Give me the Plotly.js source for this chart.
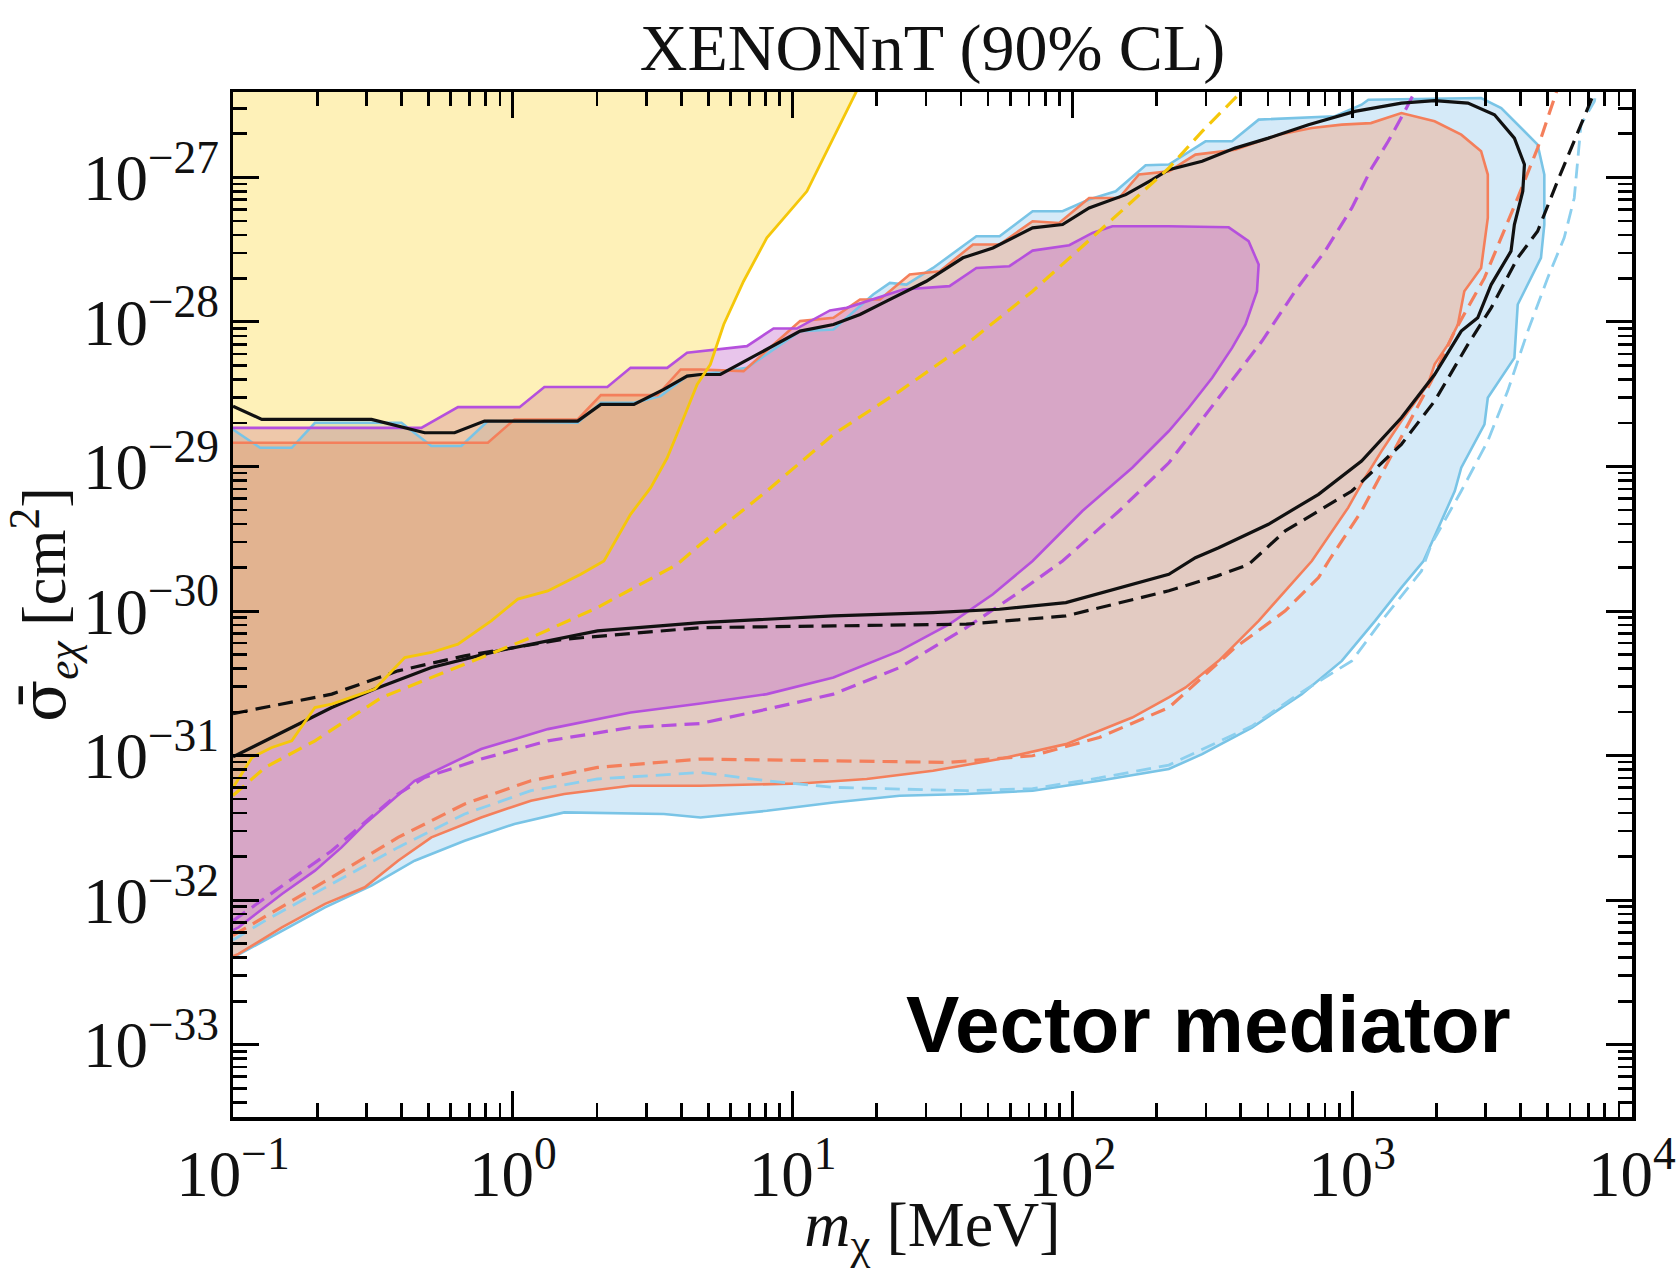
<!DOCTYPE html>
<html>
<head>
<meta charset="utf-8">
<script src="https://cdn.plot.ly/plotly-3.0.1.min.js"></script>
<style>html,body{margin:0;padding:0;background:#fff;}</style>
</head>
<body>
<div id="chart" style="width:1678px;height:1269px;"></div>
<script>
// ---- data (m_chi in MeV, sigma in cm^2) ----
const massBlue = [0.1, 0.125, 0.1622, 0.1963, 0.3999, 0.5117, 0.6546, 0.8147, 1.706, 2.065, 2.710, 3.373, 4.198, 4.688, 6.871, 10.64, 14.0, 19.41, 22.28, 25.53, 31.77, 45.39, 54.95, 72.11, 92.26, 114.8, 142.9, 182.8, 221.3, 299.2, 372.4, 463.4, 869.0, 1081, 1143, 2891, 3412, 4018, 4603, 4864, 4864, 4732, 4246, 3908, 3802, 3412, 3055, 2972, 2455, 2328, 2084, 1800, 1500, 1208, 918.9, 660.7, 438.5, 291.1, 221.3, 124.7, 72.11, 41.78, 24.15, 14.0, 8.091, 4.688, 3.467, 1.528, 1.014, 0.673, 0.4457, 0.3126, 0.2133, 0.1496, 0.1];
const sigmaBlue = [1.80e-29, 1.346e-29, 1.346e-29, 2.004e-29, 2.004e-29, 1.384e-29, 1.384e-29, 2.061e-29, 2.004e-29, 2.754e-29, 2.754e-29, 3.069e-29, 4.217e-29, 4.325e-29, 4.808e-29, 8.630e-29, 8.851e-29, 1.545e-28, 1.862e-28, 1.811e-28, 2.360e-28, 3.908e-28, 3.908e-28, 5.821e-28, 5.821e-28, 7.015e-28, 7.998e-28, 1.211e-27, 1.225e-27, 1.774e-27, 1.774e-27, 2.506e-27, 2.642e-27, 3.177e-27, 3.443e-27, 3.532e-27, 3.013e-27, 2.193e-27, 1.683e-27, 1.045e-27, 4.710e-28, 2.773e-28, 1.811e-28, 1.318e-28, 5.636e-29, 4.102e-29, 2.985e-29, 1.954e-29, 9.795e-30, 6.761e-30, 4.198e-30, 2.218e-30, 1.452e-30, 8.551e-31, 4.519e-31, 2.661e-31, 1.563e-31, 1.023e-31, 8.072e-32, 6.699e-32, 5.715e-32, 5.420e-32, 5.272e-32, 4.742e-32, 4.150e-32, 3.733e-32, 3.945e-32, 4.046e-32, 3.365e-32, 2.576e-32, 1.875e-32, 1.259e-32, 8.913e-33, 6.152e-33, 4.0e-33];

const massOrange = [0.1, 0.8147, 1.014, 1.706, 2.065, 3.289, 3.981, 4.688, 6.683, 8.551, 10.64, 14.0, 17.42, 20.51, 26.24, 33.57, 44.16, 54.95, 72.11, 89.74, 114.8, 146.9, 173.0, 221.3, 275.4, 381.9, 545.8, 717.8, 918.9, 1167, 1500, 1972, 2455, 2891, 3055, 3055, 2891, 2518, 2388, 2203, 1972, 1866, 1500, 1274, 1112, 968.3, 799.8, 717.8, 576.8, 463.4, 333.4, 254.1, 221.3, 163.7, 94.84, 54.95, 31.77, 18.41, 10.64, 4.688, 2.636, 1.528, 1.161, 0.7709, 0.5117, 0.389, 0.2958, 0.2133, 0.1496, 0.1047, 0.1];
const sigmaOrange = [1.459e-29, 1.459e-29, 2.113e-29, 2.113e-29, 3.112e-29, 3.112e-29, 4.688e-29, 4.688e-29, 4.560e-29, 6.982e-29, 1.012e-28, 1.067e-28, 1.429e-28, 1.429e-28, 2.128e-28, 2.239e-28, 3.428e-28, 3.428e-28, 4.966e-28, 4.831e-28, 7.194e-28, 7.194e-28, 1.045e-27, 1.099e-27, 1.435e-27, 1.552e-27, 1.972e-27, 2.193e-27, 2.312e-27, 2.371e-27, 2.780e-27, 2.438e-27, 1.972e-27, 1.514e-27, 1.045e-27, 5.236e-28, 2.360e-28, 1.629e-28, 9.594e-29, 6.982e-29, 5.082e-29, 3.690e-29, 2.061e-29, 1.276e-29, 8.356e-30, 5.188e-30, 3.048e-30, 2.218e-30, 1.377e-30, 8.551e-31, 4.519e-31, 2.958e-31, 2.523e-31, 1.832e-31, 1.2e-31, 9.462e-32, 7.852e-32, 6.887e-32, 6.412e-32, 6.180e-32, 6.180e-32, 5.420e-32, 4.875e-32, 3.733e-32, 2.716e-32, 1.875e-32, 1.227e-32, 9.419e-33, 6.486e-33, 4.246e-33, 4.1e-33];

const massPurple = [0.1, 0.471, 0.6368, 1.057, 1.297, 2.178, 2.636, 3.565, 4.198, 6.871, 8.551, 10.35, 13.61, 15.6, 24.83, 36.39, 45.39, 59.57, 72.11, 97.5, 118.0, 139.0, 221.3, 362.2, 426.6, 463.4, 457.1, 415.9, 372.4, 316.2, 260.6, 221.3, 163.7, 108.6, 72.11, 52.0, 36.39, 24.15, 14.0, 8.091, 4.688, 2.636, 1.334, 0.7709, 0.4457, 0.2958, 0.2443, 0.1963, 0.1496, 0.1047, 0.1];
const sigmaPurple = [1.849e-29, 1.849e-29, 2.570e-29, 2.570e-29, 3.540e-29, 3.540e-29, 4.808e-29, 4.808e-29, 6.109e-29, 6.792e-29, 8.995e-29, 8.995e-29, 1.2e-28, 1.25e-28, 1.675e-28, 1.766e-28, 2.360e-28, 2.427e-28, 3.112e-28, 3.388e-28, 4.121e-28, 4.581e-28, 4.581e-28, 4.508e-28, 3.614e-28, 2.495e-28, 1.629e-28, 9.594e-29, 6.607e-29, 4.102e-29, 2.547e-29, 1.758e-29, 9.795e-30, 4.920e-30, 2.218e-30, 1.306e-30, 8.11e-31, 5.297e-31, 3.467e-31, 2.661e-31, 2.291e-31, 1.986e-31, 1.524e-31, 1.109e-31, 6.699e-32, 3.365e-32, 2.317e-32, 1.6e-32, 1.104e-32, 6.486e-33, 6.2e-33];

const massBlack = [0.1, 0.1268, 0.3126, 0.4345, 0.4842, 0.6194, 0.7925, 1.706, 2.065, 2.710, 3.467, 4.198, 4.688, 5.521, 7.464, 10.64, 14.0, 17.42, 21.68, 30.06, 40.64, 52.0, 72.11, 92.26, 114.8, 155.2, 193.2, 221.3, 291.1, 381.9, 502.3, 698.2, 1023, 1500, 1972, 2594, 3228, 3802, 4130, 4074, 3802, 3698, 3141, 2812, 2455, 1972, 1500, 1081, 758.6, 502.3, 333.4, 275.4, 221.3, 142.9, 94.84, 54.95, 31.77, 14.0, 4.688, 2.009, 0.885, 0.5117, 0.3214, 0.2254, 0.1714, 0.1303, 0.1047, 0.1];
const sigmaBlack = [2.612e-29, 2.113e-29, 2.113e-29, 1.803e-29, 1.710e-29, 1.710e-29, 2.061e-29, 2.061e-29, 2.685e-29, 2.685e-29, 3.412e-29, 4.217e-29, 4.325e-29, 4.325e-29, 5.957e-29, 8.630e-29, 9.594e-29, 1.125e-28, 1.390e-28, 1.910e-28, 2.773e-28, 3.243e-28, 4.467e-28, 4.710e-28, 6.138e-28, 7.586e-28, 9.638e-28, 1.130e-27, 1.291e-27, 1.592e-27, 1.866e-27, 2.312e-27, 2.858e-27, 3.258e-27, 3.388e-27, 3.258e-27, 2.710e-27, 1.866e-27, 1.225e-27, 7.998e-28, 4.710e-28, 3.083e-28, 1.811e-28, 1.067e-28, 8.630e-29, 4.325e-29, 2.173e-29, 1.089e-29, 6.412e-30, 3.981e-30, 2.742e-30, 2.339e-30, 1.795e-30, 1.416e-30, 1.143e-30, 1.028e-30, 9.75e-31, 9.247e-31, 8.318e-31, 7.278e-31, 5.297e-31, 4.064e-31, 2.884e-31, 2.148e-31, 1.652e-31, 1.265e-31, 1.023e-31, 9.8e-32];

const massBlackDash = [0.1, 0.2254, 0.389, 0.673, 1.528, 4.688, 14.0, 41.78, 94.84, 221.3, 330, 426.6, 576.8, 997.7, 1500, 1972, 2594, 3141, 3908, 4603, 5420, 6223, 7129, 7760];
const sigmaBlackDash = [1.95e-31, 2.661e-31, 3.855e-31, 4.898e-31, 6.383e-31, 7.674e-31, 7.889e-31, 8.11e-31, 9.247e-31, 1.38e-30, 1.75e-30, 2.1e-30, 3.581e-30, 6.761e-30, 1.422e-29, 2.831e-29, 6.982e-29, 1.25e-28, 2.773e-28, 4.236e-28, 9.376e-28, 1.774e-27, 3.35e-27, 5e-27];

const massOrangeDash = [0.1, 0.2254, 0.389, 0.673, 1.161, 2.009, 4.688, 14.0, 36.39, 72.11, 124.7, 221.3, 381.9, 576.8, 758.6, 824.1, 1081, 1309, 1919, 2328, 2972, 3908, 4603, 5284, 5610];
const sigmaOrangeDash = [5.7e-33, 1.436e-32, 2.716e-32, 4.624e-32, 6.699e-32, 8.279e-32, 9.462e-32, 9.204e-32, 8.974e-32, 9.977e-32, 1.334e-31, 2.148e-31, 5.585e-31, 1.002e-30, 1.702e-30, 2.218e-30, 4.920e-30, 9.795e-30, 3.890e-29, 8.630e-29, 2.014e-28, 7.194e-28, 1.592e-27, 3.532e-27, 5e-27];

const massBlueDash = [0.1, 0.1303, 0.2254, 0.389, 0.673, 1.161, 2.009, 4.688, 8.091, 14.0, 41.78, 72.11, 124.7, 221.3, 438.5, 660.7, 997.7, 1274, 1770, 1919, 2455, 3055, 3597, 4246, 5000, 5728, 6223, 6577, 7345, 7600];
const sigmaBlueDash = [5.3e-33, 7.211e-33, 1.294e-32, 2.317e-32, 3.945e-32, 5.715e-32, 6.887e-32, 7.638e-32, 6.699e-32, 6.026e-32, 5.715e-32, 5.9e-32, 7.0e-32, 8.6e-32, 1.6e-31, 2.75e-31, 4.519e-31, 8.551e-31, 1.892e-30, 2.89e-30, 6.761e-30, 1.5e-29, 3.32e-29, 8.63e-29, 2.014e-28, 3.811e-28, 7.194e-28, 2.312e-27, 3.35e-27, 5e-27];

const massPurpleDash = [0.1, 0.1496, 0.2254, 0.389, 0.4842, 0.7709, 1.334, 2.636, 4.688, 8.091, 14.0, 24.15, 41.78, 62.95, 92.26, 146.9, 221.3, 333.4, 476.4, 625.2, 799.8, 997.7, 1175, 1346, 1542, 1786];
const sigmaPurpleDash = [7.2e-33, 1.259e-32, 2.198e-32, 5.42e-32, 7.06e-32, 9.46e-32, 1.265e-31, 1.563e-31, 1.667e-31, 2.094e-31, 2.661e-31, 4.064e-31, 7.674e-31, 1.306e-30, 2.218e-30, 4.920e-30, 1.06e-29, 2.985e-29, 7.362e-29, 1.629e-28, 3.083e-28, 6.138e-28, 1.159e-27, 1.774e-27, 2.858e-27, 5e-27];

const massGold = [0.1, 0.1169, 0.1377, 0.1622, 0.1963, 0.2254, 0.3214, 0.4111, 0.5117, 0.6368, 0.8375, 1.042, 1.334, 1.750, 2.118, 2.636, 3.112, 3.565, 4.083, 4.560, 5.082, 5.675, 6.683, 8.091, 11.25, 14.0, 18.0];
const sigmaGold = [6.0e-32, 9.705e-32, 1.138e-31, 1.265e-31, 2.148e-31, 2.270e-31, 2.884e-31, 4.764e-31, 5.164e-31, 5.902e-31, 8.551e-31, 1.208e-30, 1.377e-30, 1.795e-30, 2.218e-30, 4.667e-30, 7.129e-30, 1.148e-29, 2.173e-29, 3.690e-29, 5.07e-29, 9.594e-29, 1.910e-28, 3.811e-28, 7.998e-28, 1.871e-27, 5e-27];
const massYellowCorner = [0.1];
const sigmaYellowCorner = [5e-27];

const massGoldDash = [0.1, 0.1303, 0.1963, 0.3396, 0.673, 1.161, 2.009, 3.873, 4.688, 8.091, 14.0, 24.15, 41.78, 72.11, 124.7, 221.3, 291.1, 381.9, 456];
const sigmaGoldDash = [5.3e-32, 8.279e-32, 1.265e-31, 2.523e-31, 4.285e-31, 6.546e-31, 1.057e-30, 2.104e-30, 2.897e-30, 6.761e-30, 1.667e-29, 3.32e-29, 6.982e-29, 1.629e-28, 4.236e-28, 1.159e-27, 2.080e-27, 3.532e-27, 5e-27];

const xTickAlias = {'1': '10<sup>0</sup>', '10': '10<sup>1</sup>'};

// ---- styles ----
const C = {
  blue: '#79c4e6', blueDash: '#8ccfee', orange: '#f47f5b', purple: '#b550dd',
  black: '#111111', gold: '#f5c70a'
};
function fillTrace(x, y, color) {
  return {x: x, y: y, type: 'scatter', mode: 'lines', fill: 'toself', fillcolor: color,
          line: {width: 0}, hoverinfo: 'skip', showlegend: false};
}
function lineTrace(x, y, color, width, dash) {
  return {x: x, y: y, type: 'scatter', mode: 'lines',
          line: {color: color, width: width, dash: dash || 'solid'},
          hoverinfo: 'skip', showlegend: false};
}
const DASH = '15px,8px';

const traces = [
  fillTrace(massBlue, sigmaBlue, 'rgba(135,195,235,0.35)'),
  fillTrace(massOrange, sigmaOrange, 'rgba(255,145,94,0.35)'),
  fillTrace(massPurple, sigmaPurple, 'rgba(198,110,204,0.40)'),
  fillTrace(massGold.concat(massYellowCorner), sigmaGold.concat(sigmaYellowCorner), 'rgba(252,210,20,0.30)'),
  lineTrace(massBlue, sigmaBlue, C.blue, 2.6),
  lineTrace(massOrange, sigmaOrange, C.orange, 2.6),
  lineTrace(massPurple, sigmaPurple, C.purple, 2.6),
  lineTrace(massBlueDash, sigmaBlueDash, C.blueDash, 2.8, DASH),
  lineTrace(massOrangeDash, sigmaOrangeDash, C.orange, 3.2, DASH),
  lineTrace(massPurpleDash, sigmaPurpleDash, C.purple, 3.2, DASH),
  lineTrace(massBlackDash, sigmaBlackDash, C.black, 3.2, DASH),
  lineTrace(massBlack, sigmaBlack, C.black, 3.2),
  lineTrace(massGoldDash, sigmaGoldDash, C.gold, 3.2, DASH),
  lineTrace(massGold, sigmaGold, C.gold, 2.8)
];

const serif = 'Liberation Serif, DejaVu Serif, serif';
const axisCommon = {
  type: 'log', dtick: 1, exponentformat: 'power', showexponent: 'all',
  tickfont: {family: serif, size: 52, color: '#111'},
  ticks: 'inside', ticklen: 26, tickwidth: 3, tickcolor: '#000',
  mirror: 'ticks', showline: true, linewidth: 3.5, linecolor: '#000',
  showgrid: false, zeroline: false,
  minor: {ticks: 'inside', ticklen: 14, tickwidth: 2.6, tickcolor: '#000', dtick: 'D1', showgrid: false}
};

const layout = {
  width: 1678, height: 1269,
  margin: {l: 233, r: 46, t: 92, b: 152},
  paper_bgcolor: '#ffffff', plot_bgcolor: '#ffffff',
  showlegend: false,
  title: {text: 'XENONnT (90% CL)', font: {family: serif, size: 66, color: '#111'},
          x: 0.5, xref: 'paper', xanchor: 'center', y: 0.963, yref: 'container', yanchor: 'middle'},
  xaxis: Object.assign({}, axisCommon, {
    range: [-1, 4.0004], labelalias: xTickAlias, ticklabeloverflow: 'allow',
    title: {text: '<i>m</i><sub>χ</sub> [MeV]', font: {family: serif, size: 64, color: '#111'}, standoff: 22}
  }),
  yaxis: Object.assign({}, axisCommon, {
    range: [-33.5, -26.41],
    title: {text: '<span style="font-family:DejaVu Serif">σ̄</span><sub><i>eχ</i></sub> [cm<sup>2</sup>]', font: {family: serif, size: 62, color: '#111'}, standoff: 10}
  }),
  annotations: [{
    text: '<b>Vector mediator</b>', xref: 'paper', yref: 'paper', x: 0.697, y: 0.0907,
    xanchor: 'center', yanchor: 'middle', showarrow: false,
    font: {family: 'Liberation Sans, Arial, sans-serif', size: 80, color: '#000'}
  }]
};

Plotly.newPlot('chart', traces, layout, {displayModeBar: false, staticPlot: true});
</script>
</body>
</html>
